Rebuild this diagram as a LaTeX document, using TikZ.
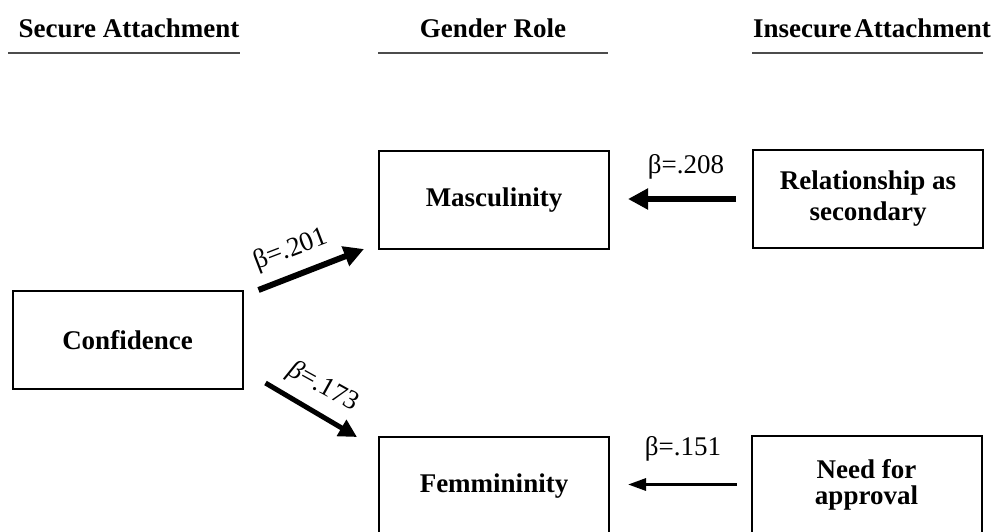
\documentclass[tikz,border=0pt]{standalone}
\usepackage{fontspec}
\setmainfont{Liberation Serif}
\usetikzlibrary{arrows.meta,calc}
\begin{document}
\begin{tikzpicture}[x=0.5pt,y=-0.5pt,
  box/.style={draw, line width=1pt, minimum width=115pt, minimum height=49pt, inner sep=0pt,
    font=\fontsize{13.5}{15}\selectfont\bfseries, align=center},
  hdr/.style={font=\fontsize{13.5}{15}\selectfont\bfseries, anchor=base, inner sep=0pt},
  rulestyle/.style={draw=black!70, line width=0.75pt},
  lbl/.style={font=\fontsize{13.5}{15}\selectfont, inner sep=0pt},
  bigarrow/.style={line width=3pt, -{Triangle[length=10pt,width=10pt]}},
  midarrow/.style={line width=2.5pt, -{Triangle[length=9pt,width=9pt]}},
  thinarrow/.style={line width=1.5pt, -{Triangle[length=9pt,width=6pt]}}
]
\useasboundingbox (0,0) rectangle (996,531);
\clip (0,0) rectangle (996,531);

% headers
\node[hdr] (h1) at (129,37) {Secure Attachment};
\node[hdr] (h2) at (493,37) {Gender Role};
\node[hdr] (h3) at (872,37) {Insecure\hspace{0.1em}Attachment};
\draw[rulestyle] (8,53) -- (240,53);
\draw[rulestyle] (378,53) -- (608,53);
\draw[rulestyle] (752,53) -- (983,53);

% boxes
\node[box] (conf) at (127.5,340) {Confidence};
\node[box] (masc) at (494,200) {Masculinity};
\node[box] (fem) at (494,486) {Femmininity};
\node[box, font=\fontsize{13.5}{15.5}\selectfont\bfseries] (rel) at (868,199) {Relationship as\\secondary};
\node[box, font=\fontsize{13.5}{13}\selectfont\bfseries] (need) at (866.5,484.5) {Need for\\approval};

% arrows
\draw[bigarrow] ($(conf.north east)+(15,0)$) -- ($(masc.south west)+(-14,-1)$);
\draw[midarrow] ($(conf.south east)+(22,-7)$) -- ($(fem.north west)+(-21,1)$);
\draw[bigarrow, shorten <=8pt, shorten >=9pt] (rel.west) -- (rel.west -| masc.east);
\draw[thinarrow, shorten <=7pt, shorten >=9pt] (need.west) -- (need.west -| fem.east);

% labels
\node[lbl, rotate=21] (l201) at (291,250) {β=.201};
\node[lbl, rotate=-29] (l173) at (323,387) {\textit{β}=.173};
\node[lbl, anchor=base] (l208) at (686,173) {β=.208};
\node[lbl, anchor=base] (l151) at (683,455) {β=.151};
\end{tikzpicture}
\end{document}
